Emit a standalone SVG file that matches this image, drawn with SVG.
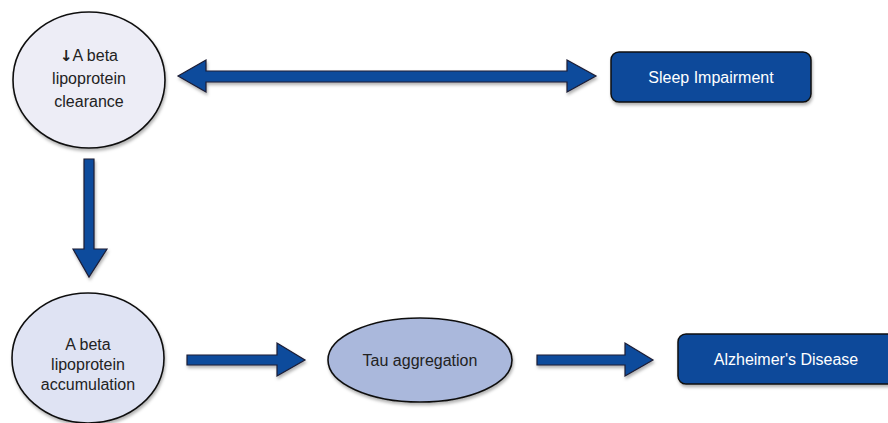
<svg xmlns="http://www.w3.org/2000/svg" width="888" height="423" viewBox="0 0 888 423">
<defs>
<filter id="sh" x="-10%" y="-10%" width="130%" height="140%">
<feDropShadow dx="1" dy="2.5" stdDeviation="1.6" flood-color="#000" flood-opacity="0.3"/>
</filter>
</defs>
<style>
.arrow{fill:#0b4c9c;stroke:#1c1c34;stroke-width:1.2;stroke-linejoin:miter;filter:url(#sh)}
.node{stroke:#111;stroke-width:1.6;filter:url(#sh)}
.box{fill:#0a4a9a;stroke:#111;stroke-width:1.5;filter:url(#sh)}
.t{font-family:"Liberation Sans",Arial,sans-serif;font-size:16px;text-anchor:middle;fill:#222}
.tw{font-family:"Liberation Sans",Arial,sans-serif;font-size:16px;text-anchor:middle;fill:#fff}
.sym{font-family:"DejaVu Sans",sans-serif;font-weight:bold;font-size:15px}
</style>
<rect width="888" height="423" fill="#fff"/>
<g id="connectors">
<polygon class="arrow" points="178,76 206,60 206,71 567,71 567,60 596,76 567,92 567,82 206,82 206,92"/>
<polygon class="arrow" points="84,159 94,159 94,249 107,249 89,277 73,249 84,249"/>
<polygon class="arrow" points="187,355 277,355 277,343 305,360 277,376 277,365 187,365"/>
<polygon class="arrow" points="537,355 625,355 625,343 653,360 625,376 625,365 537,365"/>
</g>
<g id="node-clearance">
<ellipse class="node" cx="89" cy="80" rx="76" ry="68" fill="#ededf6"/>
<text class="t" x="89" y="61"><tspan class="sym">↓</tspan>A beta</text>
<text class="t" x="89" y="84">lipoprotein</text>
<text class="t" x="89" y="107">clearance</text>
</g>
<g id="node-sleep">
<rect class="box" x="611" y="52" width="200" height="50" rx="8"/>
<text class="tw" x="711" y="83">Sleep Impairment</text>
</g>
<g id="node-accumulation">
<ellipse class="node" cx="88" cy="358" rx="76" ry="65" fill="#dfe3f3"/>
<text class="t" x="88" y="350">A beta</text>
<text class="t" x="88" y="370">lipoprotein</text>
<text class="t" x="88" y="390">accumulation</text>
</g>
<g id="node-tau">
<ellipse class="node" cx="420" cy="360" rx="92" ry="42" fill="#aab8dc"/>
<text class="t" x="420" y="366">Tau aggregation</text>
</g>
<g id="node-alzheimers">
<rect class="box" x="678" y="334" width="230" height="50" rx="8"/>
<text class="tw" x="786" y="365">Alzheimer's Disease</text>
</g>
</svg>
